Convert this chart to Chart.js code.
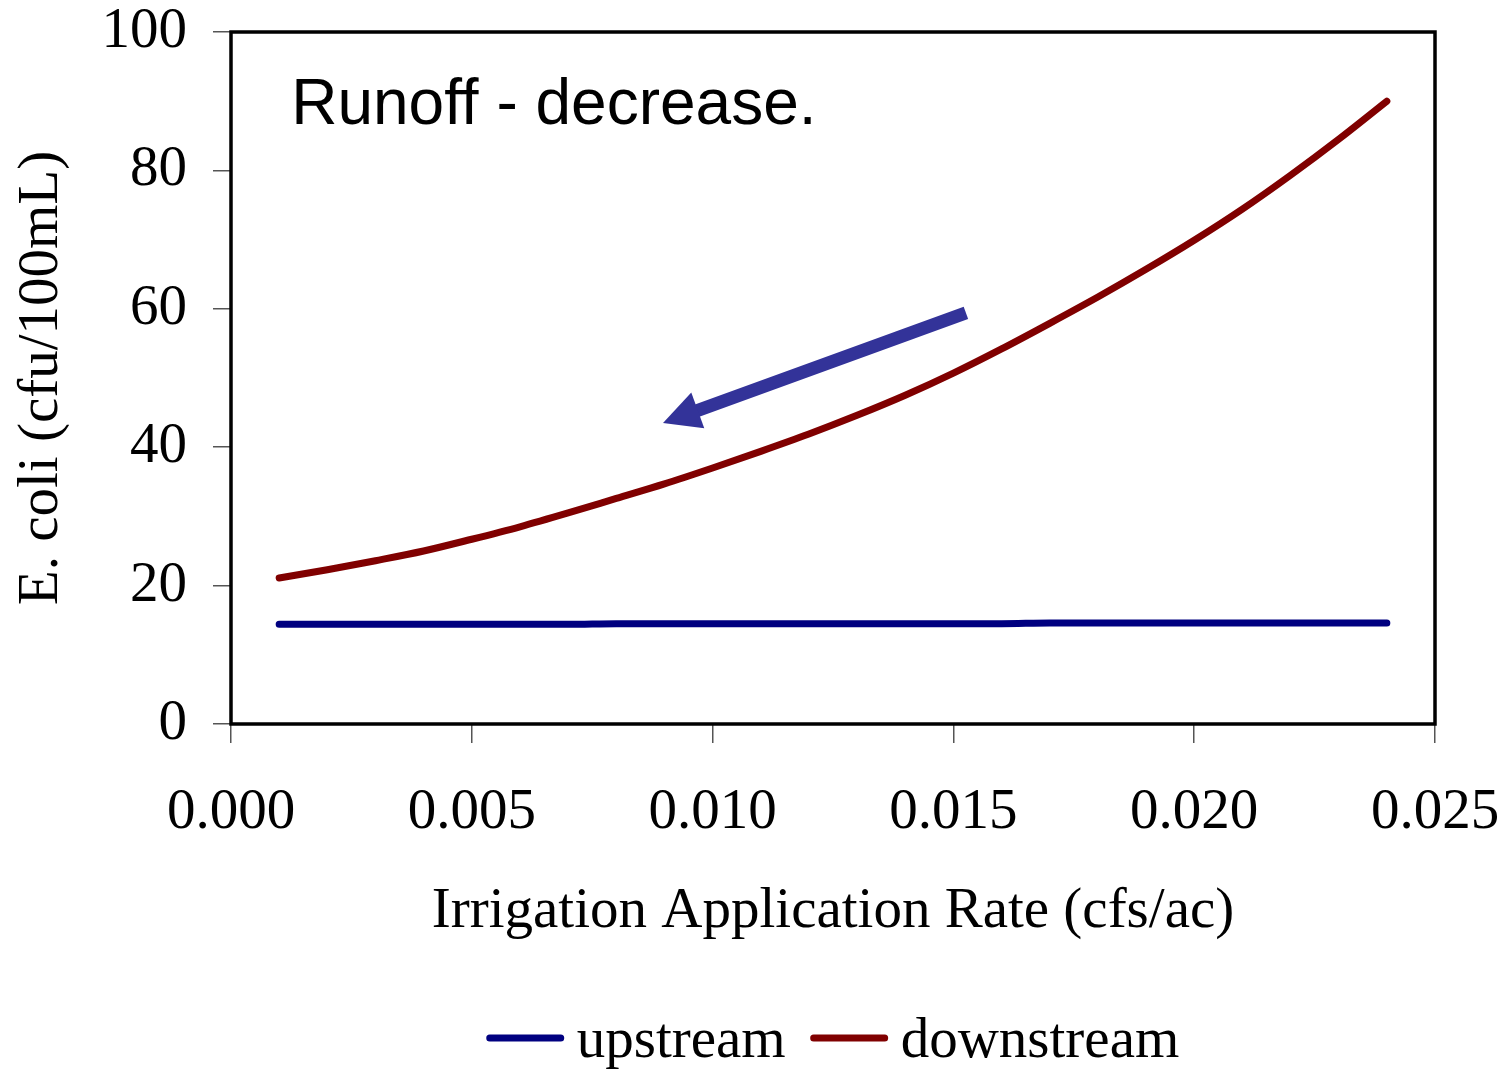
<!DOCTYPE html>
<html>
<head>
<meta charset="utf-8">
<title>E. coli vs irrigation rate</title>
<script src="https://cdn.jsdelivr.net/npm/chart.js@4.4.1/dist/chart.umd.min.js"></script>
<style>
    html, body { margin: 0; padding: 0; background: #fff; }
    #wrap { width: 1505px; height: 1070px; }
</style>
</head>
<body>
<div id="wrap"><canvas id="chart" width="1505" height="1070"></canvas></div>
<script>
// Irrigation application rate (cfs/ac)
const rates = [0.001, 0.002, 0.003, 0.004, 0.005, 0.006, 0.007, 0.008, 0.009, 0.010, 0.011, 0.012,
               0.013, 0.014, 0.015, 0.016, 0.017, 0.018, 0.019, 0.020, 0.021, 0.022, 0.023, 0.024];

// E. coli (cfu/100mL)
const upstream = [14.4, 14.4, 14.4, 14.4, 14.4, 14.4, 14.4, 14.5, 14.5, 14.5, 14.5, 14.5,
                  14.5, 14.5, 14.5, 14.5, 14.6, 14.6, 14.6, 14.6, 14.6, 14.6, 14.6, 14.6];
const downstream = [21.1, 22.3, 23.6, 25.0, 26.7, 28.5, 30.5, 32.6, 34.7, 37.0, 39.4, 41.9,
                    44.6, 47.5, 50.7, 54.2, 57.9, 61.7, 65.7, 69.9, 74.4, 79.3, 84.5, 90.0];

const xTicks = [0, 0.005, 0.010, 0.015, 0.020, 0.025];
const yTicks = [0, 20, 40, 60, 80, 100];

// note text and arrow (data coords)
const noteText = "Runoff - decrease.";
const notePos = { x: 0.00125, y: 86.7 };
const arrowFrom = { x: 0.01526, y: 59.4 };
const arrowTo = { x: 0.00897, y: 43.5 };

const serif = "'Liberation Serif', 'Times New Roman', serif";

function toPoints(xs, ys) {
    return xs.map((x, i) => ({ x: x, y: ys[i] }));
}

// frame, note, arrow and legend
const extras = {
    id: "extras",
    afterDatasetsDraw(chart) {
        const { ctx, chartArea: a, scales } = chart;
        const sx = scales.x, sy = scales.y;

        ctx.save();
        ctx.strokeStyle = "#000";
        ctx.lineWidth = 3.5;
        ctx.strokeRect(a.left, a.top, a.right - a.left, a.bottom - a.top);

        ctx.fillStyle = "#000";
        ctx.font = "64px 'Liberation Sans', Arial, sans-serif";
        ctx.textBaseline = "alphabetic";
        ctx.textAlign = "left";
        ctx.fillText(noteText, sx.getPixelForValue(notePos.x), sy.getPixelForValue(notePos.y));

        // arrow
        const x0 = sx.getPixelForValue(arrowFrom.x), y0 = sy.getPixelForValue(arrowFrom.y);
        const x1 = sx.getPixelForValue(arrowTo.x), y1 = sy.getPixelForValue(arrowTo.y);
        const ang = Math.atan2(y1 - y0, x1 - x0);
        const headLen = 37, headHalf = 19;
        const bx = x1 - headLen * Math.cos(ang), by = y1 - headLen * Math.sin(ang);
        ctx.strokeStyle = "#333399";
        ctx.fillStyle = "#333399";
        ctx.lineWidth = 13;
        ctx.lineCap = "butt";
        ctx.beginPath();
        ctx.moveTo(x0, y0);
        ctx.lineTo(bx + 5 * Math.cos(ang), by + 5 * Math.sin(ang));
        ctx.stroke();
        ctx.beginPath();
        ctx.moveTo(x1, y1);
        ctx.lineTo(bx + headHalf * Math.sin(ang), by - headHalf * Math.cos(ang));
        ctx.lineTo(bx - headHalf * Math.sin(ang), by + headHalf * Math.cos(ang));
        ctx.closePath();
        ctx.fill();

        // legend, centred under the plot
        const sample = 77, gapText = 13, gapItem = 25;
        ctx.font = "57px " + serif;
        const items = chart.data.datasets.map(ds => ({
            label: ds.label, color: ds.borderColor, w: ctx.measureText(ds.label).width
        }));
        const total = items.reduce((s, it) => s + sample + gapText + it.w, 0) + gapItem * (items.length - 1);
        let x = (a.left + a.right) / 2 - total / 2;
        const lineY = 1038, baseY = 1057;
        items.forEach(it => {
            ctx.strokeStyle = it.color;
            ctx.lineWidth = 7;
            ctx.lineCap = "round";
            ctx.beginPath();
            ctx.moveTo(x + 3, lineY);
            ctx.lineTo(x + sample - 3, lineY);
            ctx.stroke();
            x += sample + gapText;
            ctx.fillStyle = "#000";
            ctx.fillText(it.label, x, baseY);
            x += it.w + gapItem;
        });
        ctx.restore();
    }
};

new Chart(document.getElementById("chart"), {
    type: "line",
    data: {
        datasets: [
            {
                label: "upstream",
                data: toPoints(rates, upstream),
                borderColor: "#000080",
                backgroundColor: "#000080",
                borderWidth: 7,
                borderCapStyle: "round",
                pointRadius: 0,
                cubicInterpolationMode: "monotone"
            },
            {
                label: "downstream",
                data: toPoints(rates, downstream),
                borderColor: "#800000",
                backgroundColor: "#800000",
                borderWidth: 7,
                borderCapStyle: "round",
                pointRadius: 0,
                cubicInterpolationMode: "monotone"
            }
        ]
    },
    options: {
        responsive: false,
        animation: false,
        layout: { padding: { top: 32, right: 70, left: 0, bottom: 70 } },
        plugins: {
            tooltip: { enabled: false },
            legend: { display: false }
        },
        scales: {
            x: {
                type: "linear",
                min: 0,
                max: 0.025,
                afterBuildTicks: s => { s.ticks = xTicks.map(v => ({ value: v })); },
                afterFit: s => { s.height = 276; s.paddingLeft = 0; s.paddingRight = 0; },
                grid: { drawOnChartArea: false, tickLength: 19, color: "#555", lineWidth: 1.5 },
                border: { display: false },
                ticks: {
                    padding: 36,
                    color: "#000",
                    font: { family: serif, size: 57 },
                    maxRotation: 0,
                    callback: v => v.toFixed(3)
                },
                title: {
                    display: true,
                    text: "Irrigation Application Rate (cfs/ac)",
                    color: "#000",
                    font: { family: serif, size: 57 },
                    padding: { top: 0, bottom: 54 }
                }
            },
            y: {
                min: 0,
                max: 100,
                afterBuildTicks: s => { s.ticks = yTicks.map(v => ({ value: v })); },
                afterFit: s => { s.width = 231; s.paddingTop = 0; s.paddingBottom = 0; },
                grid: { drawOnChartArea: false, tickLength: 18, color: "#555", lineWidth: 1.5 },
                border: { display: false },
                ticks: {
                    padding: 26,
                    color: "#000",
                    font: { family: serif, size: 57 }
                },
                title: {
                    display: true,
                    text: "E. coli (cfu/100mL)",
                    color: "#000",
                    font: { family: serif, size: 57 },
                    padding: { top: 8, bottom: 0 }
                }
            }
        }
    },
    plugins: [extras]
});
</script>
</body>
</html>
